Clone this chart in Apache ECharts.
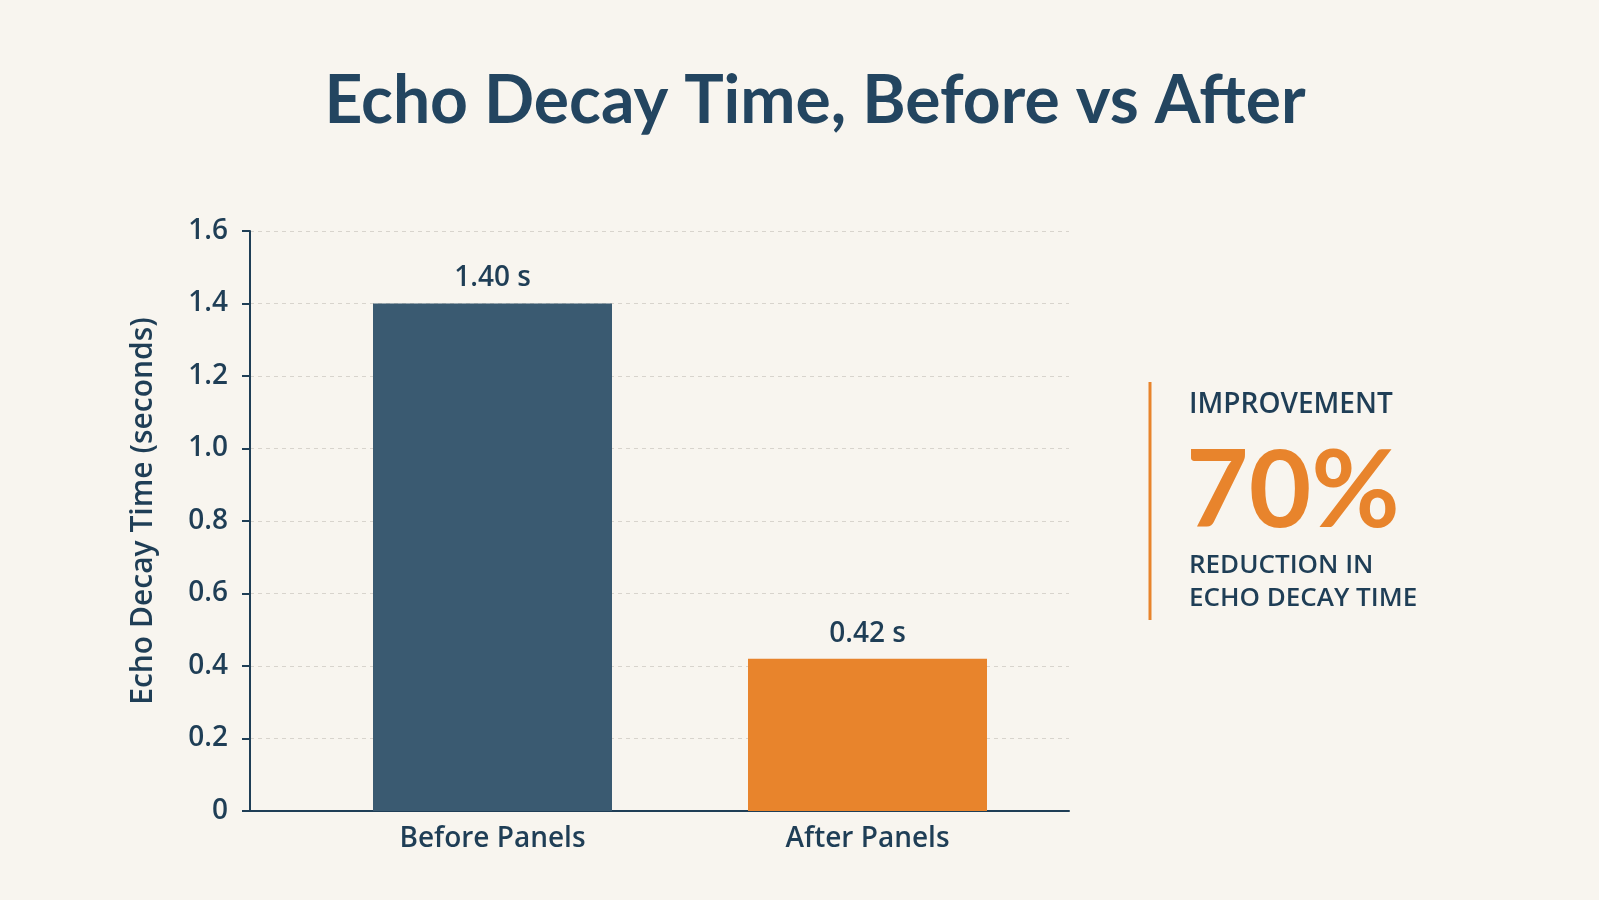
<!DOCTYPE html>
<html>
<head>
<meta charset="utf-8">
<title>Echo Decay Time, Before vs After</title>
<script src="https://cdn.jsdelivr.net/npm/echarts@6/dist/echarts.min.js"></script>
<style>
  html, body { margin: 0; padding: 0; background: #f8f5ef; }
  #chart { width: 1599px; height: 900px; }
</style>
</head>
<body>
<div id="chart"></div>
<script>
// 数据
const categories = ['Before Panels', 'After Panels'];
const decayTimes = [1.40, 0.42];
const barColors = ['#3a5a71', '#e8842c'];
const yMin = 0;
const yMax = 1.6;
const yStep = 0.2;
const improvementTitle = 'IMPROVEMENT';
const improvementValue = '70%';
const improvementNote = ['REDUCTION IN', 'ECHO DECAY TIME'];

const ink = '#1f3e56';
const orange = '#e8842c';
const titleFont = 'Lato, "Noto Sans", sans-serif';
const bodyFont = '"Open Sans", "Noto Sans", sans-serif';

const chart = echarts.init(document.getElementById('chart'));

chart.setOption({
    backgroundColor: '#f8f5ef',
    textStyle: { fontFamily: bodyFont },
    title: {
        text: 'Echo Decay Time, Before vs After',
        left: 810,
        top: 64,
        textAlign: 'center',
        textStyle: { fontSize: 66, fontWeight: 'bold', color: '#234560', fontFamily: titleFont }
    },
    grid: [
        { left: 250, top: 231, width: 819, height: 580 },
        { left: 305, top: 231, width: 750, height: 580 }
    ],
    xAxis: [
        {
            gridIndex: 0,
            type: 'category',
            data: categories,
            axisLine: { show: true, lineStyle: { color: ink, width: 2 } },
            axisTick: { show: false },
            axisLabel: { show: false }
        },
        {
            gridIndex: 1,
            type: 'category',
            data: categories,
            axisLine: { show: false },
            axisTick: { show: false },
            axisLabel: { fontSize: 28, fontWeight: 600, color: ink, margin: 14, fontFamily: bodyFont }
        }
    ],
    yAxis: [
        {
            gridIndex: 0,
            type: 'value',
            min: yMin,
            max: yMax,
            interval: yStep,
            name: 'Echo Decay Time (seconds)',
            nameLocation: 'middle',
            nameGap: 92,
            nameTextStyle: { fontSize: 30, fontWeight: 600, color: ink, fontFamily: bodyFont, padding: [0, 0, 0, 20] },
            axisLine: { show: true, lineStyle: { color: ink, width: 2 } },
            axisTick: { show: true, length: 8, lineStyle: { color: ink, width: 2 } },
            axisLabel: {
                fontSize: 28,
                fontWeight: 600,
                color: ink,
                margin: 22,
                fontFamily: bodyFont,
                formatter: v => (v === 0 ? '0' : v.toFixed(1))
            },
            splitLine: { show: true, lineStyle: { color: '#d8d4cd', width: 1, type: [4, 4] } }
        },
        {
            gridIndex: 1,
            type: 'value',
            min: yMin,
            max: yMax,
            interval: yStep,
            show: false,
            splitLine: { show: false }
        }
    ],
    series: [{
        type: 'bar',
        xAxisIndex: 1,
        yAxisIndex: 1,
        barWidth: 239,
        data: decayTimes.map((v, i) => ({ value: v, itemStyle: { color: barColors[i] } })),
        label: {
            show: true,
            position: 'top',
            distance: 11,
            fontSize: 28,
            fontWeight: 600,
            color: ink,
            fontFamily: bodyFont,
            formatter: p => p.value.toFixed(2) + ' s'
        }
    }],
    graphic: [
        {
            type: 'line',
            shape: { x1: 1150, y1: 382, x2: 1150, y2: 620 },
            style: { stroke: orange, lineWidth: 3 }
        },
        {
            type: 'text',
            x: 1189, y: 405,
            style: { text: improvementTitle, font: '600 28px ' + bodyFont, fill: ink, textVerticalAlign: 'middle' }
        },
        {
            type: 'text',
            x: 1186, y: 492,
            style: { text: improvementValue, font: 'bold 108px ' + titleFont, fill: orange, textVerticalAlign: 'middle' }
        },
        {
            type: 'text',
            x: 1189, y: 566,
            style: { text: improvementNote[0], font: '600 26px ' + bodyFont, fill: ink, textVerticalAlign: 'middle' }
        },
        {
            type: 'text',
            x: 1189, y: 599,
            style: { text: improvementNote[1], font: '600 26px ' + bodyFont, fill: ink, textVerticalAlign: 'middle' }
        }
    ]
});
</script>
</body>
</html>
